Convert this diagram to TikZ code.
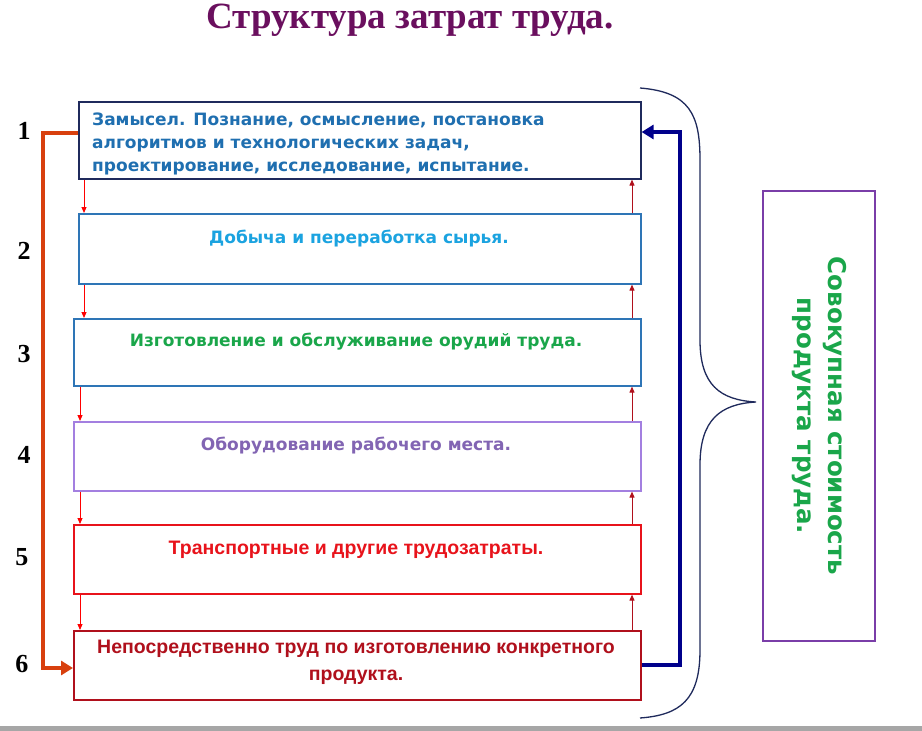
\documentclass[tikz,border=0pt]{standalone}
\usepackage{fontspec}
\setmainfont{DejaVu Sans}
\newfontfamily\serifb{Liberation Serif}
\newfontfamily\narrowb{Liberation Sans}
\usetikzlibrary{arrows.meta}
\definecolor{tnavy}{HTML}{1F2A5C}
\definecolor{tsteel}{HTML}{2E75B6}
\definecolor{tlav}{HTML}{A37FE0}
\definecolor{tred}{HTML}{E8131B}
\definecolor{tdred}{HTML}{B0101C}
\definecolor{ttitle}{HTML}{6A0F5E}
\definecolor{tblue1}{HTML}{1F6FB0}
\definecolor{tcyan}{HTML}{1BA3E0}
\definecolor{tgreen}{HTML}{1AA64A}
\definecolor{tpurp}{HTML}{7A3EA8}
\definecolor{torange}{HTML}{D8400E}
\definecolor{tblue}{HTML}{00008B}
\tikzset{
 stagebox/.style={draw,line width=1.6pt,minimum height=69pt,inner sep=0pt,anchor=north west},
 stagetext/.style={font=\bfseries\fontsize{17}{24}\selectfont,align=center},
 num/.style={font=\serifb\bfseries\fontsize{26}{26}\selectfont},
 dn/.style={red,line width=1pt,-{Triangle[length=6pt,width=5pt]}},
 up/.style={tdred,line width=1pt,-{Triangle[length=6pt,width=5pt]}},
}
\begin{document}
\begin{tikzpicture}[x=1pt,y=-1pt]
\useasboundingbox (0,0) rectangle (922,731);
\fill[white] (0,0) rectangle (922,731);
\fill[gray!70] (0,726) rectangle (922,731);
\node[font=\serifb\bfseries\fontsize{37}{37}\selectfont,text=ttitle] (title) at (410,20) {Структура затрат труда.};
% boxes
\node[stagebox,draw=tnavy,minimum width=562pt,minimum height=77pt] (b1) at (78,101) {};
\node[anchor=north west,font=\bfseries\fontsize{17}{23}\selectfont,text=tblue1,align=left,inner sep=0pt] (t1) at (92,113) {Замысел. Познание, осмысление, постановка\\алгоритмов и технологических задач,\\проектирование, исследование, испытание.};
\node[stagebox,draw=tsteel,minimum width=562pt,minimum height=70pt] (b2) at (78,213) {};
\node[stagetext,text=tcyan] (t2) at (359,239) {Добыча и переработка сырья.};
\node[stagebox,draw=tsteel,minimum width=567pt,minimum height=67pt] (b3) at (73,318) {};
\node[stagetext,text=tgreen] (t3) at (356,342) {Изготовление и обслуживание орудий труда.};
\node[stagebox,draw=tlav,minimum width=567pt] (b4) at (73,421) {};
\node[stagetext,text=tlav!80!black] (t4) at (356,446) {Оборудование рабочего места.};
\node[stagebox,draw=tred,minimum width=567pt] (b5) at (73,524) {};
\node[font=\narrowb\bfseries\fontsize{19.5}{24}\selectfont,text=tred] (t5) at (356,550) {Транспортные и другие трудозатраты.};
\node[stagebox,draw=tdred,minimum width=567pt] (b6) at (73,630) {};
\node[font=\narrowb\bfseries\fontsize{19.5}{27}\selectfont,text=tdred,align=center] (t6) at (356,662) {Непосредственно труд по изготовлению конкретного\\продукта.};
% numbers
\node[num] (n1) at (24,131) {1};
\node[num] (n2) at (24,251) {2};
\node[num] (n3) at (24,354) {3};
\node[num] (n4) at (24,455) {4};
\node[num] (n5) at (22,557) {5};
\node[num] (n6) at (22,664) {6};
% down arrows
\draw[dn] (b1.south west -| 84,0) -- (b2.north west -| 84,0);
\draw[dn] (b2.south west -| 84,0) -- (b3.north west -| 84,0);
\draw[dn] (b3.south west -| 80,0) -- (b4.north west -| 80,0);
\draw[dn] (b4.south west -| 80,0) -- (b5.north west -| 80,0);
\draw[dn] (b5.south west -| 80,0) -- (b6.north west -| 80,0);
% up arrows
\draw[up] (b2.north east -| 632,0) -- (b1.south east -| 632,0);
\draw[up] (b3.north east -| 632,0) -- (b2.south east -| 632,0);
\draw[up] (b4.north east -| 632,0) -- (b3.south east -| 632,0);
\draw[up] (b5.north east -| 632,0) -- (b4.south east -| 632,0);
\draw[up] (b6.north east -| 632,0) -- (b5.south east -| 632,0);
% feedback lines
\coordinate (L1) at (43,133);
\coordinate (L6) at (43,668);
\draw[torange,line width=4pt,-{Triangle[length=12pt,width=14pt]}] (b1.west |- 0,133) -- (L1) -- (L6) -- (b6.west |- 0,668);
\coordinate (R6) at (680,665);
\coordinate (R1) at (680,132);
\draw[tblue,line width=4pt,-{Triangle[length=12pt,width=14pt]}] (b6.east |- 0,665) -- (R6) -- (R1) -- (b1.east |- 0,132);
% brace
\coordinate (brt) at (640,88);
\coordinate (brb) at (640,718);
\coordinate (brm) at (756,402);
\draw[tnavy,line width=1.3pt] (brt) .. controls (690,92) and (700,115) .. (700,160) -- (700,340) .. controls (700,385) and (720,400) .. (brm)
  .. controls (720,404) and (700,420) .. (700,465) -- (700,650) .. controls (700,700) and (680,715) .. (brb);
% summary box
\node[draw=tpurp,line width=2pt,minimum width=112pt,minimum height=450pt,inner sep=0pt,anchor=north west] (sum) at (762,190) {};
\node[rotate=-90,font=\bfseries\fontsize{24.5}{31}\selectfont,text=tgreen,align=center] (sumt) at (sum.center) {Совокупная стоимость\\продукта труда.};
\end{tikzpicture}
\end{document}
